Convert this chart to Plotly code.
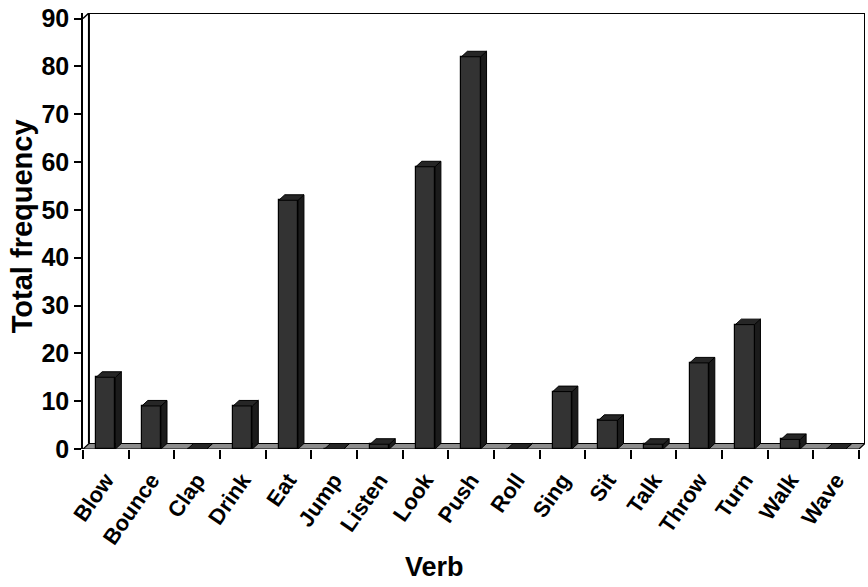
import plotly.graph_objects as go

# Verb categories and their total frequencies
verbs = ["Blow", "Bounce", "Clap", "Drink", "Eat", "Jump", "Listen", "Look", "Push",
         "Roll", "Sing", "Sit", "Talk", "Throw", "Turn", "Walk", "Wave"]
freq = [15, 9, 0, 9, 52, 0, 1, 59, 82, 0, 12, 6, 1, 18, 26, 2, 0]
y_ticks = [0, 10, 20, 30, 40, 50, 60, 70, 80, 90]

# pseudo-3D styling
BAR_W = 0.42          # front face width in category units
DX = 0.13             # depth offset along x (category units)
DY = 1.15             # depth offset along y (value units)
FONT = "Liberation Sans, Arial, sans-serif"
FRONT, SIDE, TOP = "#333333", "#1b1b1b", "#262626"
FLOOR = "#8c8c8c"

n = len(verbs)
xs = list(range(n))
x_lo, x_hi = -0.5, n - 0.5
y_top = max(y_ticks) + DY
boundaries = [x + 0.5 for x in [-1] + xs]

fig = go.Figure()

# floor slab and back walls
fig.add_shape(type="path",
              path=f"M {x_lo},0 L {x_lo+DX},{DY} L {x_hi+DX},{DY} L {x_hi},0 Z",
              fillcolor=FLOOR, line=dict(color="black", width=1.2), layer="below")
fig.add_trace(go.Scatter(
    x=[x_lo + DX, x_lo + DX, x_hi + DX, x_hi + DX],
    y=[DY, y_top, y_top, DY],
    mode="lines", line=dict(color="black", width=2), hoverinfo="skip", showlegend=False))
fig.add_trace(go.Scatter(
    x=[x_lo, x_lo + DX], y=[max(y_ticks), y_top],
    mode="lines", line=dict(color="black", width=1.5), hoverinfo="skip", showlegend=False))

# front faces
fig.add_trace(go.Bar(x=xs, y=freq, width=BAR_W, marker=dict(color=FRONT, line=dict(color="black", width=1.2)),
                     showlegend=False))

# side and top faces built from the same values
side_x, side_y, top_x, top_y = [], [], [], []
for x, v in zip(xs, freq):
    x0, x1 = x - BAR_W / 2, x + BAR_W / 2
    side_x += [x1, x1 + DX, x1 + DX, x1, x1, None]
    side_y += [0, DY, v + DY, v, 0, None]
    top_x += [x0, x0 + DX, x1 + DX, x1, x0, None]
    top_y += [v, v + DY, v + DY, v, v, None]

fig.add_trace(go.Scatter(x=side_x, y=side_y, mode="lines", fill="toself", fillcolor=SIDE,
                         line=dict(color="black", width=1), hoverinfo="skip", showlegend=False))
fig.add_trace(go.Scatter(x=top_x, y=top_y, mode="lines", fill="toself", fillcolor=TOP,
                         line=dict(color="black", width=1), hoverinfo="skip", showlegend=False))

# invisible carrier so the label axis is drawn
fig.add_trace(go.Scatter(x=xs, y=freq, xaxis="x2", mode="markers",
                         marker=dict(opacity=0), hoverinfo="skip", showlegend=False))

fig.update_layout(
    width=868, height=587,
    margin=dict(l=83, r=3, t=13, b=138),
    plot_bgcolor="white", paper_bgcolor="white",
    font=dict(family=FONT, color="black", weight="bold"),
    bargap=0,
    # tick marks at the category boundaries
    xaxis=dict(range=[x_lo, x_hi + DX], tickmode="array", tickvals=boundaries,
               ticktext=[""] * len(boundaries),
               ticks="outside", ticklen=9, tickwidth=1.5, tickcolor="black",
               showgrid=False, zeroline=False, showline=False),
    # category names centred under each bar
    xaxis2=dict(range=[x_lo, x_hi + DX], overlaying="x", anchor="y", side="bottom",
                tickmode="array", tickvals=xs, ticktext=verbs, ticks="",
                tickangle=-55, ticklabelstandoff=13,
                tickfont=dict(size=22, family=FONT, weight="bold"),
                showgrid=False, zeroline=False, showline=False),
    yaxis=dict(range=[0, y_top], tickmode="array", tickvals=y_ticks,
               ticks="outside", ticklen=7, tickwidth=1.5, tickcolor="black",
               tickfont=dict(size=25, family=FONT, weight="bold"),
               showgrid=False, zeroline=False, showline=True, linecolor="black", linewidth=1.5),
    annotations=[
        dict(text="Total frequency", xref="paper", yref="paper", x=-0.078, y=0.511,
             xanchor="center", yanchor="middle",
             textangle=-90, showarrow=False, font=dict(size=29, family=FONT, weight="bold")),
        dict(text="Verb", xref="paper", yref="paper", x=0.449, y=-0.271,
             xanchor="center", yanchor="middle",
             showarrow=False, font=dict(size=27, family=FONT, weight="bold")),
    ],
)

fig.write_html("out.html")
